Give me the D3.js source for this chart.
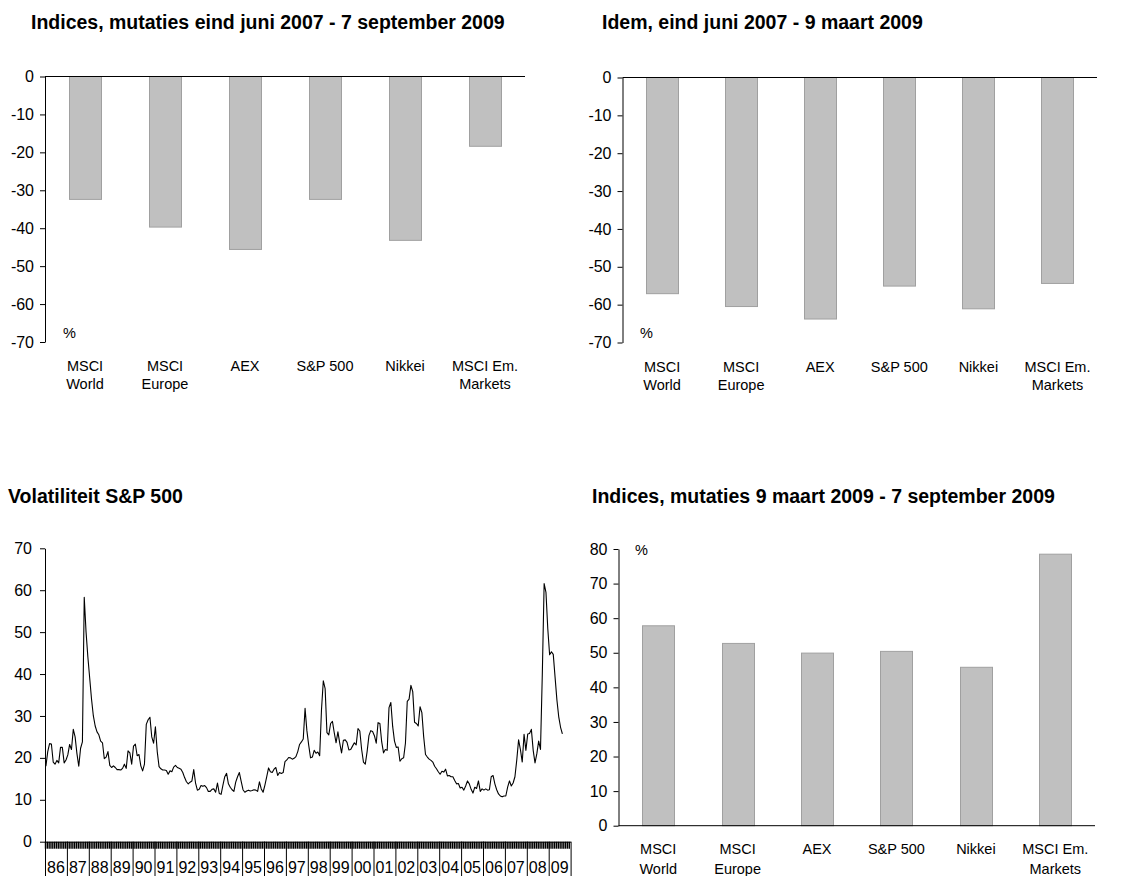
<!DOCTYPE html>
<html><head><meta charset="utf-8">
<script src="https://cdn.jsdelivr.net/npm/d3@7/dist/d3.min.js"></script>
<style>
body{margin:0;background:#fff}
svg{display:block}
text{font-family:"Liberation Sans",Arial,Helvetica,sans-serif;fill:#000}
</style>
</head><body>
<svg id="chart" width="1143" height="876"></svg>
<script>
// ---------- DATA ----------
const categories = [["MSCI","World"],["MSCI","Europe"],["AEX"],["S&P 500"],["Nikkei"],["MSCI Em.","Markets"]];
const titleTopLeft = "Indices, mutaties eind juni 2007 - 7 september 2009";
const titleTopRight = "Idem, eind juni 2007 - 9 maart 2009";
const titleBottomLeft = "Volatiliteit S&P 500";
const titleBottomRight = "Indices, mutaties 9 maart 2009 - 7 september 2009";
const changeJun07Sep09 = [-32.4, -39.7, -45.6, -32.4, -43.2, -18.4];
const changeJun07Mar09 = [-57.1, -60.5, -63.8, -55.1, -61.1, -54.4];
const changeMar09Sep09 = [57.8, 52.7, 49.9, 50.4, 45.8, 78.5];
const negTicks = [0, -10, -20, -30, -40, -50, -60, -70];
const posTicks = [0, 10, 20, 30, 40, 50, 60, 70, 80];
const volTicks = [0, 10, 20, 30, 40, 50, 60, 70];
const yearLabels = ["86","87","88","89","90","91","92","93","94","95","96","97","98","99","00","01","02","03","04","05","06","07","08","09"];
const volFirstYear = 1986; // monthly series starting January 1986
const volatilitySP500 = [
  18.0,21.5,23.4,23.3,19.0,18.5,19.4,18.8,22.5,22.5,18.8,19.5,
  20.7,23.2,22.0,26.8,25.0,21.0,18.0,22.3,23.8,58.3,50.0,44.0,
  39.0,34.0,30.0,27.6,26.2,25.5,24.0,23.6,19.8,20.2,21.5,18.2,
  17.7,18.1,17.7,17.2,17.2,17.1,17.5,18.5,17.5,21.7,21.2,18.5,
  22.8,23.3,20.5,20.8,18.1,16.9,18.5,28.0,29.1,29.7,25.0,23.5,
  27.4,21.5,17.9,17.4,17.1,17.1,17.0,16.1,16.9,16.7,17.8,18.2,
  17.7,17.5,17.3,16.5,15.3,14.3,13.8,14.2,14.5,17.2,14.0,12.3,
  12.5,13.4,13.2,13.4,12.9,12.0,12.0,12.5,12.6,11.8,14.0,11.5,
  11.3,13.5,15.5,16.3,13.8,13.0,12.4,12.0,14.2,15.5,16.5,14.4,
  12.4,11.8,12.1,12.3,12.1,12.2,12.4,12.3,12.0,14.3,12.6,11.8,
  13.5,15.5,17.6,16.7,16.5,17.3,17.7,15.8,16.5,16.3,16.5,19.1,
  19.5,20.1,20.0,19.7,19.9,20.3,21.5,23.2,23.8,24.5,31.8,26.5,
  23.0,20.0,20.2,21.8,21.1,21.4,20.5,31.5,38.4,36.5,26.0,25.5,
  28.2,28.7,26.0,23.6,26.2,23.5,21.2,24.2,24.3,23.7,21.9,22.0,
  22.8,23.6,23.1,27.0,26.4,22.0,19.0,18.5,21.5,25.3,26.5,26.3,
  25.3,23.5,28.4,28.2,23.8,21.2,22.0,21.8,32.0,33.2,27.5,24.0,
  22.5,22.6,19.2,19.8,20.0,23.5,33.5,34.0,37.3,35.8,28.5,28.2,
  27.6,32.2,30.8,25.0,20.8,20.2,19.7,19.4,19.0,18.0,17.4,16.7,
  16.1,16.8,16.6,17.3,15.7,15.8,15.5,15.5,14.6,13.8,13.9,12.8,
  13.0,12.3,13.3,14.5,13.8,12.5,11.6,13.0,12.7,14.5,12.0,12.6,
  12.3,12.6,12.3,12.4,15.5,15.8,13.8,12.4,11.4,10.9,10.7,10.9,
  10.9,13.0,14.5,13.3,14.0,15.5,19.5,24.3,22.0,19.0,25.6,21.8,
  25.7,25.8,26.8,21.8,18.8,21.0,24.0,22.0,40.0,61.6,59.5,50.8,
  44.6,45.3,44.7,39.2,33.8,29.8,27.3,25.7
];

// ---------- DRAWING ----------
const svg = d3.select("#chart");
const LABEL_FONT = 14.5, TICK_FONT = 16, TITLE_FONT = 19.5;
const barFill = "#c0c0c0", barStroke = "#a0a0a0";
const fmt = d => String(d);

function title(txt, x, y) {
  svg.append("text").attr("x", x).attr("y", y)
    .attr("font-size", TITLE_FONT).attr("font-weight", "bold").text(txt);
}

function styleAxis(ag) {
  ag.selectAll("text").attr("font-size", TICK_FONT)
    .attr("font-family", "Liberation Sans, Arial, sans-serif").attr("fill", "#000");
  ag.selectAll("line,path").attr("stroke", "#000");
}

function barChart(o) {
  const g = svg.append("g");
  const y = d3.scaleLinear().domain(o.domain).range([o.yTop, o.yBottom]);
  const x = d3.scaleBand().domain(d3.range(categories.length)).range([o.x0, o.x1]);
  const bw = 32;
  g.selectAll("rect.bar").data(o.values).enter().append("rect")
    .attr("x", (d, i) => Math.round(x(i) + (x.bandwidth() - bw) / 2) + 0.5)
    .attr("y", d => Math.min(y(0), y(d)))
    .attr("width", bw)
    .attr("height", d => Math.abs(y(d) - y(0)))
    .attr("fill", barFill).attr("stroke", barStroke).attr("stroke-width", 1);
  const ax = d3.axisLeft(y).tickValues(o.ticks).tickSize(5).tickSizeOuter(0).tickPadding(6).tickFormat(fmt);
  styleAxis(g.append("g").attr("transform", `translate(${o.x0},0)`).call(ax));
  g.append("line").attr("x1", o.x0).attr("x2", o.x1).attr("y1", y(0)).attr("y2", y(0))
    .attr("stroke", "#000").attr("stroke-width", 1);
  categories.forEach((c, i) => {
    const cx = x(i) + x.bandwidth() / 2;
    c.forEach((line, k) => {
      g.append("text").attr("x", cx).attr("y", k === 0 ? o.labelY1 : o.labelY2)
        .attr("text-anchor", "middle").attr("font-size", LABEL_FONT).text(line);
    });
  });
  g.append("text").attr("x", o.pctX).attr("y", o.pctY).attr("font-size", LABEL_FONT).text("%");
}

title(titleTopLeft, 31, 29);
barChart({domain: [0, -70], yTop: 76.5, yBottom: 342, x0: 45, x1: 525, values: changeJun07Sep09,
  ticks: negTicks, labelY1: 371, labelY2: 389, pctX: 63, pctY: 338});

title(titleTopRight, 602, 29);
barChart({domain: [0, -70], yTop: 77.5, yBottom: 342.5, x0: 622.5, x1: 1097, values: changeJun07Mar09,
  ticks: negTicks, labelY1: 372, labelY2: 390, pctX: 640, pctY: 338});

title(titleBottomRight, 592, 503);
barChart({domain: [80, 0], yTop: 549, yBottom: 825.7, x0: 618.5, x1: 1095, values: changeMar09Sep09,
  ticks: posTicks, labelY1: 854, labelY2: 874, pctX: 635, pctY: 555});

title(titleBottomLeft, 8, 503);
(function () {
  const g = svg.append("g");
  const x = d3.scaleLinear().domain([1986, 2010]).range([45, 570.6]);
  const y = d3.scaleLinear().domain([0, 70]).range([841.7, 548.3]);
  const pts = volatilitySP500.map((v, m) => ({t: volFirstYear + (m + 0.5) / 12, v}));
  g.append("path").datum(pts)
    .attr("d", d3.line().x(d => x(d.t)).y(d => y(d.v)))
    .attr("fill", "none").attr("stroke", "#000").attr("stroke-width", 1.1).attr("stroke-linejoin", "round");
  styleAxis(g.append("g").attr("transform", "translate(45,0)")
    .call(d3.axisLeft(y).tickValues(volTicks).tickSize(5).tickSizeOuter(0).tickPadding(8).tickFormat(fmt)));
  const months = d3.range(0, 24 * 12).map(m => 1986 + m / 12);
  const ax = g.append("g").attr("transform", `translate(0,${y(0)})`)
    .call(d3.axisBottom(x).tickValues(months).tickSize(7).tickSizeOuter(0).tickFormat(""));
  ax.selectAll("line").attr("stroke", "#000").attr("stroke-width", 1.4);
  ax.select("path").attr("stroke", "#000");
  const years = d3.range(1986, 2011);
  const ax2 = g.append("g").attr("transform", `translate(0,${y(0)})`)
    .call(d3.axisBottom(x).tickValues(years).tickSize(35).tickSizeOuter(0).tickFormat(""));
  ax2.selectAll("line").attr("stroke", "#000");
  ax2.select("path").remove();
  yearLabels.forEach((lab, i) => {
    g.append("text").attr("x", x(1986 + i + 0.5)).attr("y", 873)
      .attr("text-anchor", "middle").attr("font-size", TICK_FONT).text(lab);
  });
})();
</script>
</body></html>
